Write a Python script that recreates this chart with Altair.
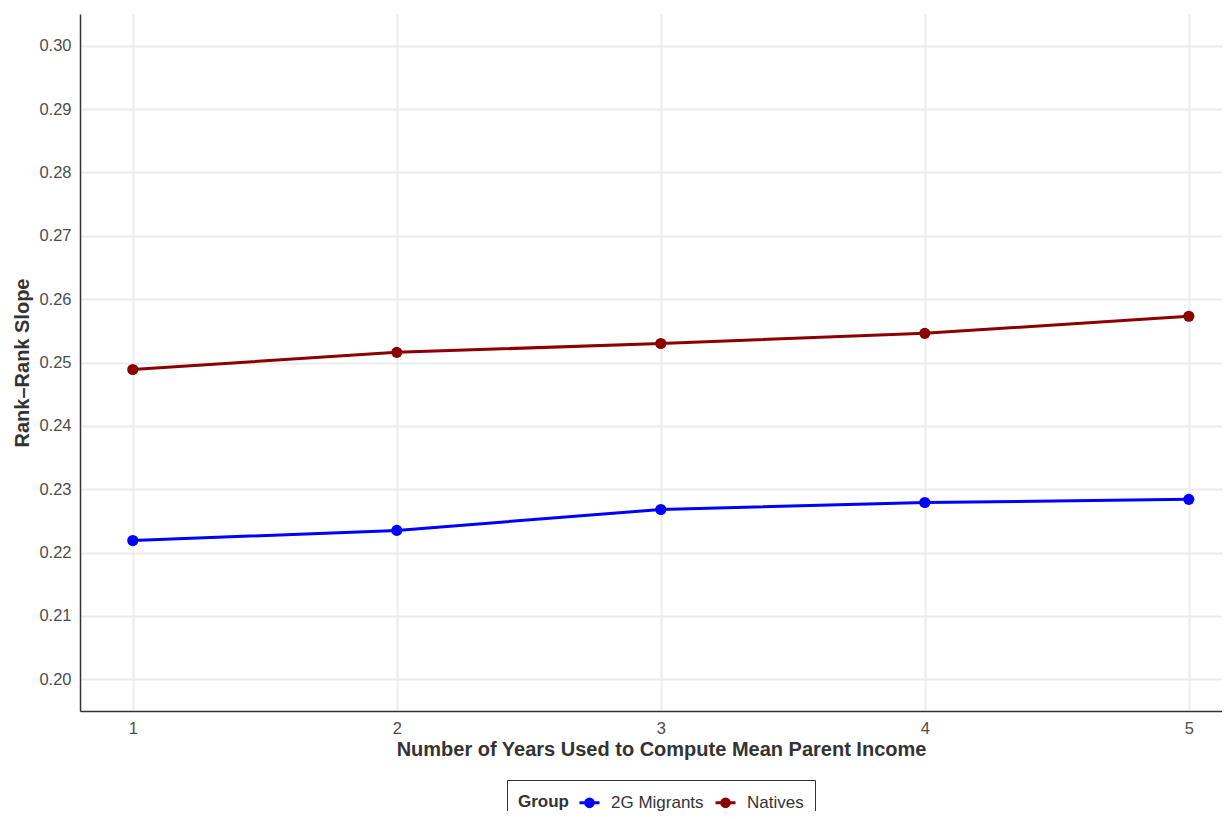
import altair as alt
import pandas as pd

years = [1, 2, 3, 4, 5]
natives = [0.2489, 0.2516, 0.2530, 0.2546, 0.2573]
migrants = [0.2219, 0.2235, 0.2268, 0.2279, 0.2284]
groups = ["2G Migrants", "Natives"]
colors = ["#0000FF", "#8B0000"]

rows = []
for y, v in zip(years, migrants):
    rows.append({"Years": y, "Slope": v, "Group": groups[0]})
for y, v in zip(years, natives):
    rows.append({"Years": y, "Slope": v, "Group": groups[1]})
df = pd.DataFrame(rows)

sym = "M-1,0L1,0M0.38,0A0.38,0.38,0,1,1,-0.38,0A0.38,0.38,0,1,1,0.38,0Z"

PLOT_W = 1142
PLOT_H = 697
x = alt.X("Years:Q", scale=alt.Scale(domain=[0.8, 0.8 + PLOT_W / 264.0], nice=False, zero=False),
          axis=alt.Axis(values=years, format="d", title="Number of Years Used to Compute Mean Parent Income",
                        titleX=581, titlePadding=3, labelPadding=9))
y = alt.Y("Slope:Q", scale=alt.Scale(domain=[0.195, 0.305], nice=False, zero=False),
          axis=alt.Axis(values=[0.20, 0.21, 0.22, 0.23, 0.24, 0.25, 0.26, 0.27, 0.28, 0.29, 0.30],
                        format=".2f", title="Rank\u2013Rank Slope", labelPadding=9, titlePadding=6))
color = alt.Color("Group:N", scale=alt.Scale(domain=groups, range=colors),
                  legend=alt.Legend(title="Group", orient="none", legendX=427, legendY=766,
                                    direction="horizontal", titleOrient="left",
                                    symbolType=sym, symbolSize=400, symbolStrokeWidth=3,
                                    padding=11, strokeColor="#333333",
                                    titleFontSize=17, titleFontWeight="bold", titleColor="#333333",
                                    labelFontSize=17, labelColor="#333333",
                                    columnPadding=5, labelOffset=10, titlePadding=9))

base = alt.Chart(df)
lines = base.mark_line(strokeWidth=3).encode(x=x, y=y, color=color)
points = base.mark_point(filled=True, size=125, opacity=1).encode(x=x, y=y, color=color)

chart = (lines + points).properties(
    width=PLOT_W, height=PLOT_H,
    autosize=alt.AutoSizeParams(type="none"),
    padding={"left": 72, "top": 6, "right": 0, "bottom": 100}
).configure_view(stroke=None).configure_axis(
    grid=True, gridColor="#EBEBEB", gridWidth=1.8, ticks=False,
    domainColor="#333333", domainWidth=1.5,
    labelFont="Liberation Sans", labelFontSize=16.5, labelColor="#4D4D4D",
    titleFont="Liberation Sans", titleFontSize=20, titleFontWeight="bold", titleColor="#333333"
).configure_legend(labelFont="Liberation Sans", titleFont="Liberation Sans")

chart.save("out.html", embed_options={"renderer": "svg", "actions": False})
